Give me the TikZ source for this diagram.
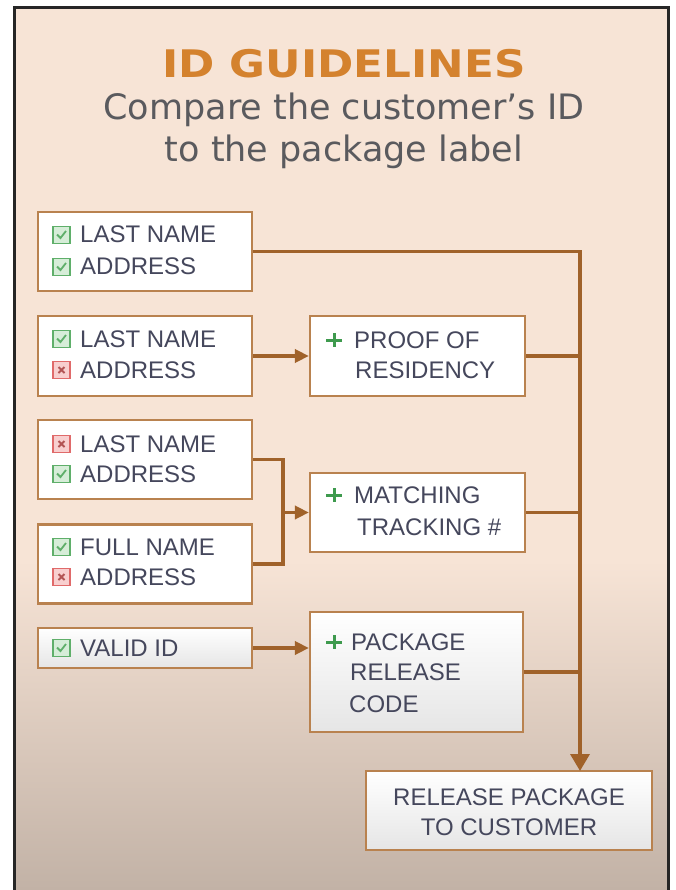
\documentclass[tikz,border=0pt]{standalone}
\usepackage{fontspec}
\setmainfont{Liberation Sans}
\newfontfamily\titlefont{DejaVu Sans}[FakeStretch=1.15]
\newfontfamily\subfont{DejaVu Sans}
\usetikzlibrary{arrows.meta}
\definecolor{bgtop}{HTML}{F7E4D6}
\definecolor{bgbot}{HTML}{C2B2A6}
\definecolor{boxbrd}{HTML}{B9824F}
\definecolor{conncol}{HTML}{A0622A}
\definecolor{txtc}{HTML}{45475C}
\definecolor{titlec}{HTML}{D4822E}
\definecolor{subc}{HTML}{5A5A5E}
\definecolor{icgreen}{HTML}{5FAF6A}
\definecolor{icgreenl}{HTML}{D6EDD8}
\definecolor{icred}{HTML}{E06A6A}
\definecolor{icredl}{HTML}{F8CFCF}
\definecolor{plusc}{HTML}{3E9A4E}
\tikzset{
  boxw/.style={draw=boxbrd, line width=2.2pt, fill=white, inner sep=0pt},
  boxg/.style={draw=boxbrd, line width=2.2pt, top color=white, bottom color=black!10, inner sep=0pt},
  conn/.style={draw=conncol, line width=3.5pt},
  harrow/.style={conn, -{Triangle[length=14pt,width=13pt]}},
  txt/.style={inner sep=0pt, anchor=base west, text=txtc, font=\fontsize{24}{28}\selectfont},
  ctxt/.style={inner sep=0pt, anchor=base, text=txtc, font=\fontsize{24}{28}\selectfont},
  chkbox/.pic={
    \draw[draw=icgreen, fill=icgreenl, line width=1.6pt] (-8.5,-8.5) rectangle (8.5,8.5);
    \draw[icgreen, line width=1.8pt] (-4.5,-0.5) -- (-1,3) -- (4.5,-4);
  },
  xbox/.pic={
    \draw[draw=icred, fill=icredl, line width=1.6pt] (-8.5,-8.5) rectangle (8.5,8.5);
    \draw[icred!80!black, line width=1.8pt] (-3,-3) -- (3,3) (-3,3) -- (3,-3);
  },
  plussign/.pic={
    \draw[plusc, line width=3pt] (-8,0) -- (8,0) (0,-7) -- (0,7);
  }
}
\begin{document}
\begin{tikzpicture}[x=1pt,y=-1pt]
\useasboundingbox (0,0) rectangle (675,890);
% background
\fill[white] (0,0) rectangle (675,890);
\fill[bgtop] (14,8) rectangle (668,890);
\shade[top color=bgtop, bottom color=bgbot] (14,560) rectangle (668,890);
\draw[line width=3pt, black!85] (14,890) -- (14,8) -- (668,8) -- (668,890);

% title
\node[inner sep=0pt, anchor=base, text=titlec, font=\titlefont\bfseries\fontsize{38}{46}\selectfont] (title) at (344,78) {ID GUIDELINES};
\node[inner sep=0pt, anchor=base, text=subc, font=\subfont\fontsize{35}{42}\selectfont] (sub1) at (344,120) {Compare the customer’s ID};
\node[inner sep=0pt, anchor=base, text=subc, font=\subfont\fontsize{35}{42}\selectfont] (sub2) at (344,162) {to the package label};

% boxes
\node[boxw, minimum width=214, minimum height=79] (b1) at (145,251.5) {};
\node[boxw, minimum width=214, minimum height=80] (b2) at (145,356) {};
\node[boxw, minimum width=215, minimum height=80] (p) at (417.5,356) {};
\node[boxw, minimum width=214, minimum height=79] (b3) at (145,459.5) {};
\node[boxw, minimum width=214, minimum height=79] (b4) at (145,564) {};
\node[boxw, minimum width=215, minimum height=79] (m) at (417.5,512.5) {};
\node[boxg, minimum width=214, minimum height=40] (b5) at (145,648) {};
\node[boxg, minimum width=213, minimum height=120] (r) at (416.5,672) {};
\node[boxg, minimum width=286, minimum height=79] (f) at (509,810.5) {};

% box texts
\pic at (61.5,235) {chkbox};
\node[txt] (t1a) at (80,243) {LAST NAME};
\pic at (61.5,267) {chkbox};
\node[txt] (t1b) at (80,275) {ADDRESS};

\pic at (61.5,339) {chkbox};
\node[txt] (t2a) at (80,347) {LAST NAME};
\pic at (61.5,370) {xbox};
\node[txt] (t2b) at (80,378) {ADDRESS};

\pic at (61.5,444) {xbox};
\node[txt] (t3a) at (80,452) {LAST NAME};
\pic at (61.5,474) {chkbox};
\node[txt] (t3b) at (80,482) {ADDRESS};

\pic at (61.5,547) {chkbox};
\node[txt] (t4a) at (80,555) {FULL NAME};
\pic at (61.5,577) {xbox};
\node[txt] (t4b) at (80,585) {ADDRESS};

\pic at (61.5,648) {chkbox};
\node[txt] (t5a) at (80,656.5) {VALID ID};

\pic at (334,340) {plussign};
\node[txt] (tpa) at (354,348) {PROOF OF};
\node[txt] (tpb) at (355,378) {RESIDENCY};

\pic at (334,495) {plussign};
\node[txt] (tma) at (354,503) {MATCHING};
\node[txt] (tmb) at (357,535) {TRACKING \#};

\pic at (334,642) {plussign};
\node[txt] (tra) at (351,650) {PACKAGE};
\node[txt] (trb) at (350,680) {RELEASE};
\node[txt] (trc) at (349,712) {CODE};

\node[ctxt] (tfa) at (509,805) {RELEASE PACKAGE};
\node[ctxt] (tfb) at (509,835) {TO CUSTOMER};

% connectors
\coordinate (bt) at (580,251.5);
\coordinate (bb) at (580,771);
\draw[conn, -{Triangle[length=17pt,width=19pt]}] (b1.east) -- (bt) -- (bb);
\draw[conn] (p.east) -- (p.east -| bt);
\draw[conn] (m.east) -- (m.east -| bt);
\draw[conn] (r.east) -- (r.east -| bt);

\draw[harrow] (b2.east) -- (p.west);

\coordinate (j) at (283,512.5);
\draw[conn] (b3.east) -| (j);
\draw[conn] (b4.east) -| (j);
\draw[harrow] (j) -- (m.west);

\draw[harrow] (b5.east) -- (b5.east -| r.west);
\end{tikzpicture}
\end{document}
